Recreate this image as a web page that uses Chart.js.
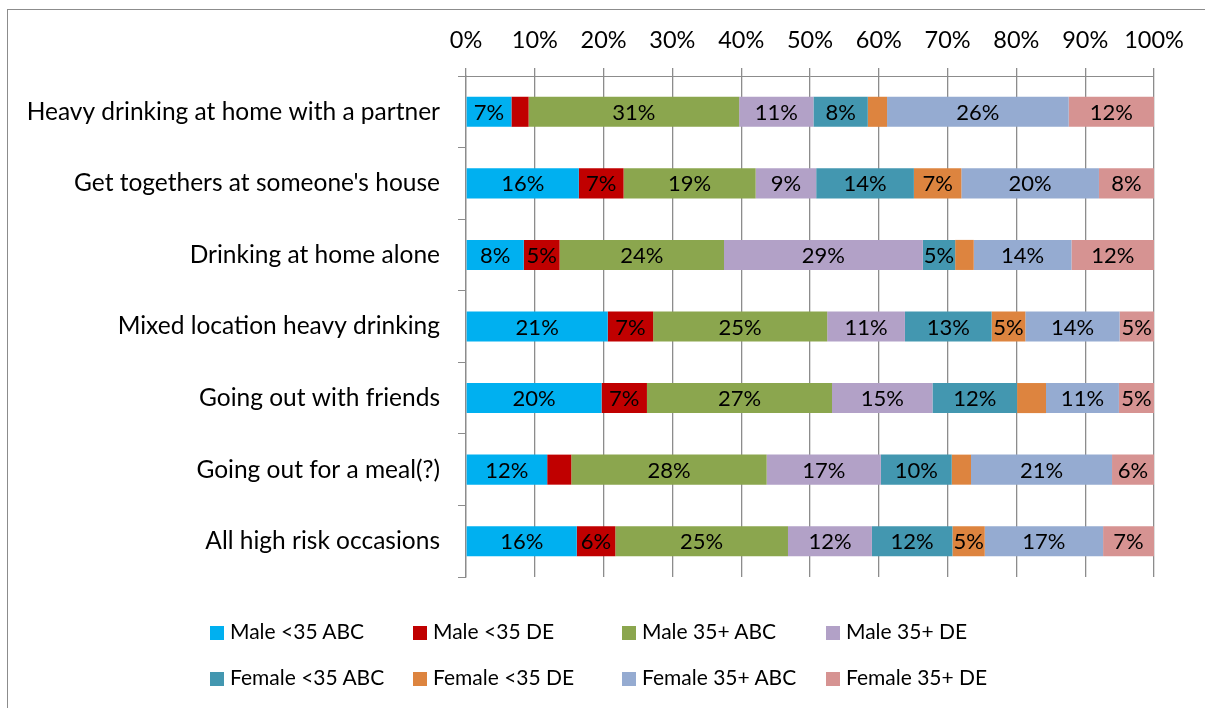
<!DOCTYPE html>
<html><head><meta charset="utf-8">
<script src="https://cdn.jsdelivr.net/npm/chart.js@4/dist/chart.umd.min.js"></script>
<style>
html,body{margin:0;padding:0;background:#fff;overflow:hidden}
#wrap{position:relative;width:1205px;height:708px;overflow:hidden}
#frame{position:absolute;left:7px;top:9px;width:1300px;height:800px;border:1px solid #8c8c8c}
#c{position:absolute;left:0;top:0}
.li{position:absolute;font-family:Lato,sans-serif;font-size:21px;color:#000;white-space:nowrap;line-height:24px}
.li span{display:inline-block;width:14px;height:14px;margin-right:6px;vertical-align:-1px}
</style></head>
<body><div id="wrap"><div id="frame"></div><canvas id="c" width="1205" height="708"></canvas><div id="legend"></div></div>
<script>
const categories = ["Heavy drinking at home with a partner","Get togethers at someone's house","Drinking at home alone","Mixed location heavy drinking","Going out with friends","Going out for a meal(?)","All high risk occasions"];
const seriesNames = ["Male <35 ABC","Male <35 DE","Male 35+ ABC","Male 35+ DE","Female <35 ABC","Female <35 DE","Female 35+ ABC","Female 35+ DE"];
const male35ABCLow = [6.6,16.4,8.4,20.6,19.7,11.8,16.1];
const male35DELow  = [2.5,6.5,5.2,6.6,6.6,3.5,5.6];
const male35ABCHigh= [30.6,19.2,23.9,25.3,26.9,28.4,25.1];
const male35DEHigh = [10.8,8.8,28.9,11.3,14.6,16.6,12.2];
const fem35ABCLow  = [7.9,14.2,4.7,12.6,12.3,10.3,11.7];
const fem35DELow   = [2.8,6.9,2.7,4.9,4.2,2.8,4.7];
const fem35ABCHigh = [26.4,20.0,14.2,13.7,10.6,20.5,17.2];
const fem35DEHigh  = [12.4,8.0,12.0,5.0,5.1,6.1,7.4];
const xTicks = [0,10,20,30,40,50,60,70,80,90,100];
const colors = ["#00B0F0","#C00000","#8BA64E","#B2A1C7","#4397B0","#DD843F","#95ABD1","#D69392"];
const seriesData = [male35ABCLow,male35DELow,male35ABCHigh,male35DEHigh,fem35ABCLow,fem35DELow,fem35ABCHigh,fem35DEHigh];
const FONT = 'Lato, sans-serif';

const labelPlugin = {
  id:'segLabels',
  afterDatasetsDraw(chart){
    const ctx=chart.ctx; ctx.save();
    ctx.font = '22px ' + FONT; ctx.fillStyle='#000'; ctx.textAlign='center'; ctx.textBaseline='middle';
    chart.data.datasets.forEach((ds,di)=>{
      const meta=chart.getDatasetMeta(di);
      meta.data.forEach((bar,i)=>{
        const v=ds.data[i];
        if(v<4.5) return;
        const p=bar.getProps(['x','base','y'],true);
        ctx.fillText(Math.round(v)+'%',(p.x+p.base)/2,p.y+1);
      });
    });
    ctx.restore();
  }
};

const chart = new Chart(document.getElementById('c'),{
  type:'bar',
  data:{labels:categories,datasets:seriesNames.map((n,i)=>({label:n,data:seriesData[i],backgroundColor:colors[i],borderWidth:0,categoryPercentage:1,barPercentage:0.42}))},
  options:{
    indexAxis:'y',responsive:false,animation:false,
    layout:{padding:{left:0,right:51,top:20,bottom:131}},
    plugins:{legend:{display:false},tooltip:{enabled:false}},
    scales:{
      x:{position:'top',stacked:true,min:0,max:100,
        afterBuildTicks(s){s.ticks=xTicks.map(v=>({value:v}));},
        afterFit(s){s.height=56;},
        grid:{color:'#8c8c8c',lineWidth:1.3,tickLength:8,drawTicks:true},
        border:{display:true,color:'#8c8c8c'},
        ticks:{padding:13,color:'#000',font:{family:FONT,size:23.5},callback:v=>v+'%',maxRotation:0}},
      y:{stacked:true,
        afterFit(s){s.width=466;},
        grid:{offset:true,drawOnChartArea:false,color:'#8c8c8c',tickLength:8},
        border:{display:true,color:'#8c8c8c',width:1.3},
        ticks:{padding:18,color:'#000',font:{family:FONT,size:24.5}}}
    }
  },
  plugins:[labelPlugin]
});

const colX=[210,413,622,826], rowY=[619,665];
const lg=document.getElementById('legend');
chart.data.datasets.forEach((ds,i)=>{
  const d=document.createElement('div'); d.className='li';
  d.style.left=colX[i%4]+'px'; d.style.top=rowY[Math.floor(i/4)]+'px';
  d.innerHTML='<span style="background:'+ds.backgroundColor+'"></span>'+ds.label.replace(/</g,'&lt;');
  lg.appendChild(d);
});
</script></body></html>
